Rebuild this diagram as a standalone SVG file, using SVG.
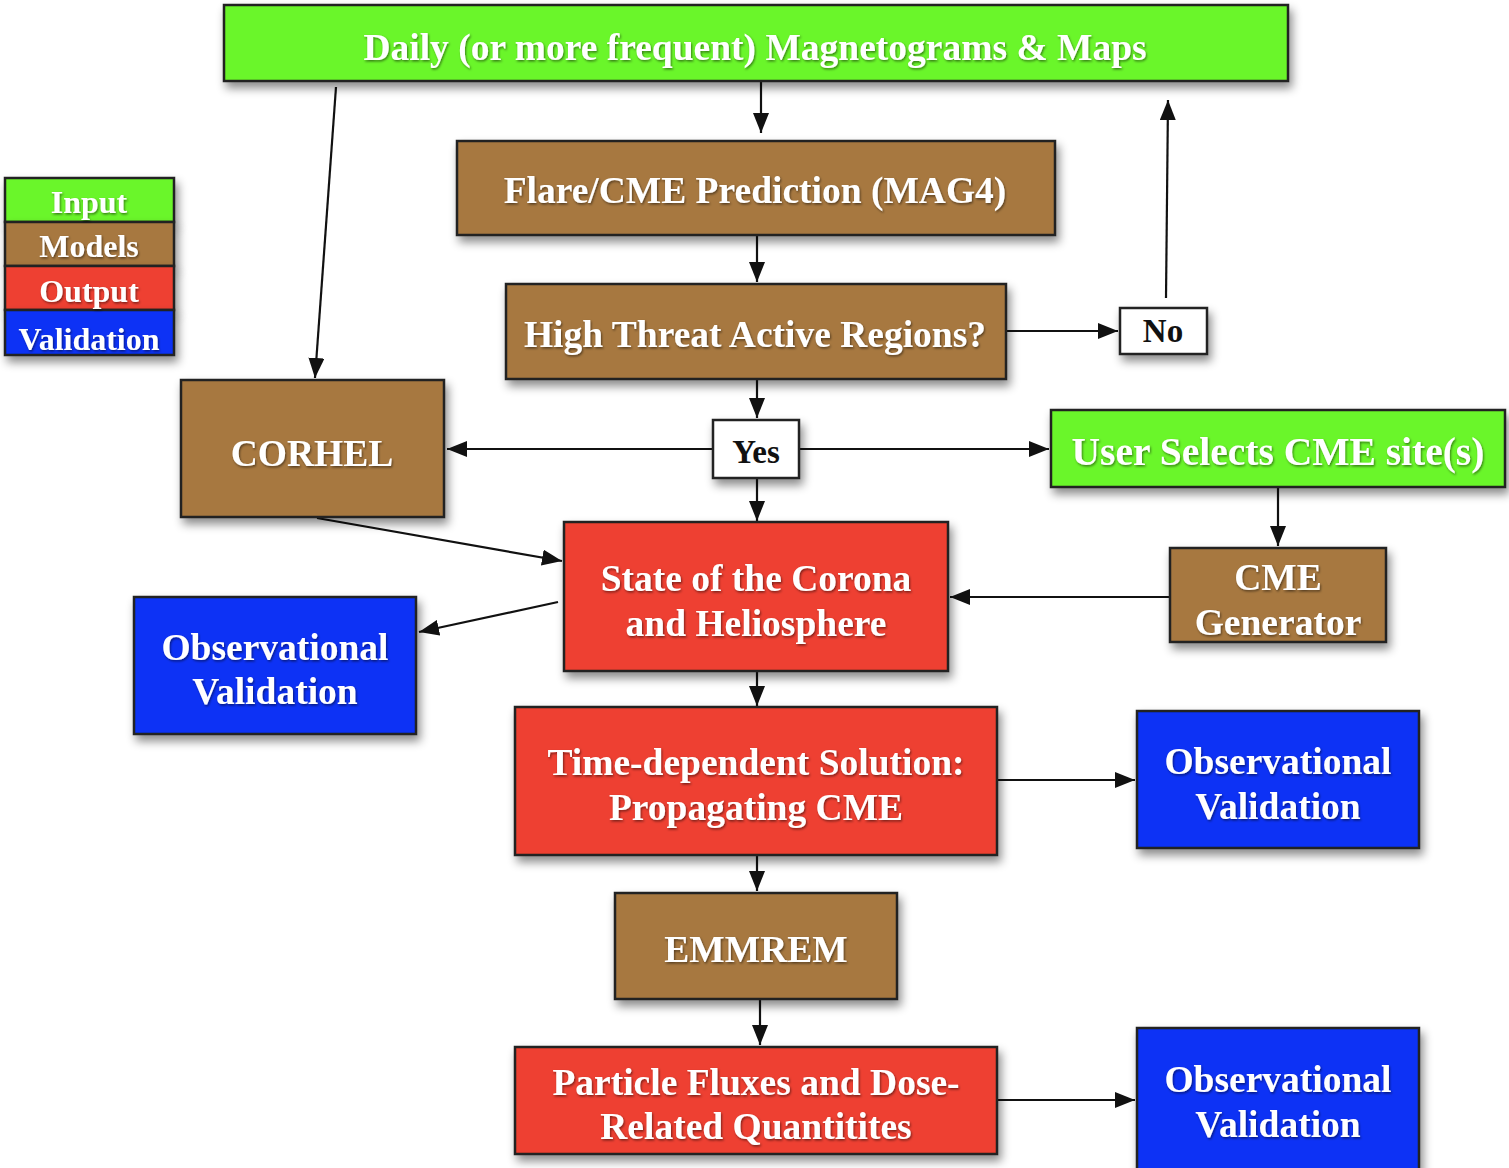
<svg xmlns="http://www.w3.org/2000/svg" width="1509" height="1168" viewBox="0 0 1509 1168">
<style>
.box{stroke:#222;stroke-width:2.5;filter:url(#sh)}
.g{fill:#6bf62b}.b{fill:#a7783f}.r{fill:#ee3f30}.v{fill:#0b32f5}.w{fill:#fff}
text{font-family:"Liberation Serif","Times New Roman",serif;font-weight:bold;text-anchor:middle;fill:#fff;filter:url(#ts)}
.t{font-size:37.5px}
.k{fill:#111;filter:none;font-size:33px}
.lg{font-size:32px}
.c{stroke:#111;stroke-width:2.2;fill:none;marker-end:url(#ah2)}
</style>
<defs>
<filter id="sh" x="-20%" y="-20%" width="150%" height="160%">
<feDropShadow dx="3" dy="6" stdDeviation="5" flood-color="#000" flood-opacity="0.45"/>
</filter>
<filter id="ts" x="-10%" y="-20%" width="120%" height="150%">
<feDropShadow dx="1" dy="1.5" stdDeviation="1" flood-color="#000" flood-opacity="0.5"/>
</filter>
<marker id="ah2" viewBox="0 0 20 16" markerWidth="20" markerHeight="16" refX="20" refY="8" orient="auto" markerUnits="userSpaceOnUse">
<path d="M0,0 L20,8 L0,16 Z" fill="#111"/>
</marker>
</defs>

<g id="connectors">
<line class="c" x1="761" y1="82" x2="761" y2="133"/>
<line class="c" x1="757" y1="236" x2="757" y2="282"/>
<line class="c" x1="1007" y1="331" x2="1118" y2="331"/>
<line class="c" x1="1166" y1="298" x2="1168" y2="100"/>
<line class="c" x1="757" y1="380" x2="757" y2="418"/>
<line class="c" x1="712" y1="449" x2="447" y2="449"/>
<line class="c" x1="800" y1="449" x2="1049" y2="449"/>
<line class="c" x1="757" y1="479" x2="757" y2="521"/>
<line class="c" x1="336" y1="87" x2="315" y2="378"/>
<line class="c" x1="317" y1="518" x2="562" y2="561"/>
<line class="c" x1="558" y1="602" x2="419" y2="632"/>
<line class="c" x1="1278" y1="488" x2="1278" y2="546"/>
<line class="c" x1="1169" y1="597" x2="950" y2="597"/>
<line class="c" x1="757" y1="672" x2="757" y2="706"/>
<line class="c" x1="998" y1="780" x2="1135" y2="780"/>
<line class="c" x1="757" y1="856" x2="757" y2="891"/>
<line class="c" x1="760" y1="1000" x2="760" y2="1045"/>
<line class="c" x1="998" y1="1100" x2="1135" y2="1100"/>
</g>

<g id="legend">
<rect class="box g" x="5" y="178" width="169" height="44"/>
<rect class="box b" x="5" y="222" width="169" height="44"/>
<rect class="box r" x="5" y="266" width="169" height="44"/>
<rect class="box v" x="5" y="310" width="169" height="45"/>
<text class="lg" x="89" y="213">Input</text>
<text class="lg" x="89" y="257">Models</text>
<text class="lg" x="89" y="302">Output</text>
<text class="lg" x="89" y="350">Validation</text>
</g>

<g id="magnetograms">
<rect class="box g" x="224" y="5" width="1064" height="76"/>
<text class="t" x="755" y="60">Daily (or more frequent) Magnetograms &amp; Maps</text>
</g>
<g id="flare">
<rect class="box b" x="457" y="141" width="598" height="94"/>
<text class="t" x="755" y="203">Flare/CME Prediction (MAG4)</text>
</g>
<g id="highthreat">
<rect class="box b" x="506" y="284" width="500" height="95"/>
<text class="t" x="755" y="347">High Threat Active Regions?</text>
</g>
<g id="no">
<rect class="box w" x="1120" y="308" width="87" height="46"/>
<text class="k" x="1163" y="342">No</text>
</g>
<g id="yes">
<rect class="box w" x="713" y="420" width="86" height="58"/>
<text class="k" x="756" y="463">Yes</text>
</g>
<g id="corhel">
<rect class="box b" x="181" y="380" width="263" height="137"/>
<text class="t" x="312" y="466">CORHEL</text>
</g>
<g id="userselects">
<rect class="box g" x="1051" y="410" width="454" height="77"/>
<text class="t" x="1278" y="465" style="font-size:39.5px">User Selects CME site(s)</text>
</g>
<g id="cmegen">
<rect class="box b" x="1170" y="548" width="216" height="94"/>
<text class="t" x="1278" y="590">CME</text>
<text class="t" x="1278" y="635">Generator</text>
</g>
<g id="state">
<rect class="box r" x="564" y="522" width="384" height="149"/>
<text class="t" x="756" y="591">State of the Corona</text>
<text class="t" x="756" y="636">and Heliosphere</text>
</g>
<g id="obsval1">
<rect class="box v" x="134" y="597" width="282" height="137"/>
<text class="t" x="275" y="660">Observational</text>
<text class="t" x="275" y="704">Validation</text>
</g>
<g id="timedep">
<rect class="box r" x="515" y="707" width="482" height="148"/>
<text class="t" x="756" y="775">Time-dependent Solution:</text>
<text class="t" x="756" y="820">Propagating CME</text>
</g>
<g id="obsval2">
<rect class="box v" x="1137" y="711" width="282" height="137"/>
<text class="t" x="1278" y="774">Observational</text>
<text class="t" x="1278" y="819">Validation</text>
</g>
<g id="emmrem">
<rect class="box b" x="615" y="893" width="282" height="106"/>
<text class="t" x="756" y="962">EMMREM</text>
</g>
<g id="particle">
<rect class="box r" x="515" y="1047" width="482" height="107"/>
<text class="t" x="756" y="1095">Particle Fluxes and Dose-</text>
<text class="t" x="756" y="1139">Related Quantitites</text>
</g>
<g id="obsval3">
<rect class="box v" x="1137" y="1028" width="282" height="145"/>
<text class="t" x="1278" y="1092">Observational</text>
<text class="t" x="1278" y="1137">Validation</text>
</g>
</svg>
